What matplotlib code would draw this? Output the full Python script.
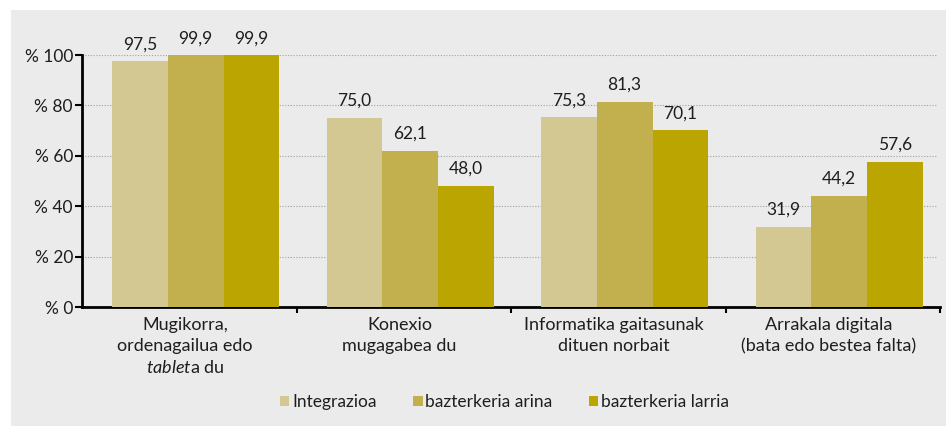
import matplotlib.pyplot as plt
from matplotlib.patches import Rectangle, Patch
import numpy as np

plt.rcParams['font.family'] = ['Lato', 'DejaVu Sans']
plt.rcParams['mathtext.fontset'] = 'custom'
plt.rcParams['mathtext.it'] = 'Lato:italic'
plt.rcParams['mathtext.rm'] = 'Lato'

categories = [
    "Mugikorra,\nordenagailua edo\n$\\mathit{tablet}$a du",
    "Konexio\nmugagabea du",
    "Informatika gaitasunak\ndituen norbait",
    "Arrakala digitala\n(bata edo bestea falta)",
]
series_names = ["Integrazioa", "bazterkeria arina", "bazterkeria larria"]
integrazioa = [97.5, 75.0, 75.3, 31.9]
arina = [99.9, 62.1, 81.3, 44.2]
larria = [99.9, 48.0, 70.1, 57.6]
yticks = [0, 20, 40, 60, 80, 100]
ytick_labels = ["% 0", "% 20", "% 40", "% 60", "% 80", "% 100"]

colors = ["#D3C792", "#C2B04E", "#BBA500"]
bg = "#EBEBEB"
txt = "#1E1E1E"

fig = plt.figure(figsize=(9.46, 4.26), dpi=100)
fig.patch.set_facecolor("white")
fig.patches.append(Rectangle((11 / 946, 0), 1, 1 - 10 / 426,
                             transform=fig.transFigure, facecolor=bg,
                             edgecolor="none", zorder=-10))

ax = fig.add_axes([82 / 946, 1 - 307 / 426, 858 / 946, 252 / 426])
ax.patch.set_alpha(0)

w = 0.26
shift = 0.03
x = np.arange(len(categories)) + 0.5 + shift
for j, vals in enumerate([integrazioa, arina, larria]):
    bars = ax.bar(x + (j - 1) * w, vals, width=w, color=colors[j],
                  label=series_names[j], zorder=3, linewidth=0)
    for b, v in zip(bars, vals):
        ax.annotate(f"{v:.1f}".replace(".", ","),
                    (b.get_x() + b.get_width() / 2, v),
                    xytext=(0, 6.5), textcoords="offset points",
                    ha="center", va="bottom", fontsize=12.5, color=txt,
                    annotation_clip=False)

ax.set_xlim(0, 4)
ax.set_ylim(0, 100)
ax.set_yticks(yticks)
ax.set_yticklabels(ytick_labels, fontsize=12.5, color=txt)
for y in yticks[1:]:
    ax.axhline(y, xmin=0, xmax=0.997, color="#A0A0A0", linestyle=(0, (1, 1.5)),
               linewidth=0.8, zorder=1)

ax.set_xticks([1, 2, 3, 4])
ax.set_xticklabels([])
ax.tick_params(axis="x", direction="out", length=4, width=1.5, color="black")
ax.tick_params(axis="y", direction="out", length=5, width=1.5, color="black", pad=1.5)

for i, lab in enumerate(categories):
    ax.text(i + 0.48, -4.0, lab, ha="center", va="top", fontsize=13,
            color=txt, linespacing=1.38, transform=ax.transData)

for s in ["top", "right"]:
    ax.spines[s].set_visible(False)
for s in ["left", "bottom"]:
    ax.spines[s].set_linewidth(2)
    ax.spines[s].set_color("black")

handles = [Patch(facecolor=c, edgecolor="none") for c in colors]
fig.legend(handles, series_names, loc="center", bbox_to_anchor=(504.5 / 946, 1 - 402 / 426),
           ncol=3, frameon=False, fontsize=12.5, handlelength=0.55, handleheight=0.55,
           handletextpad=0.15, columnspacing=2.1, labelcolor=txt)

fig.savefig("out.png", dpi=100, facecolor=fig.get_facecolor())
